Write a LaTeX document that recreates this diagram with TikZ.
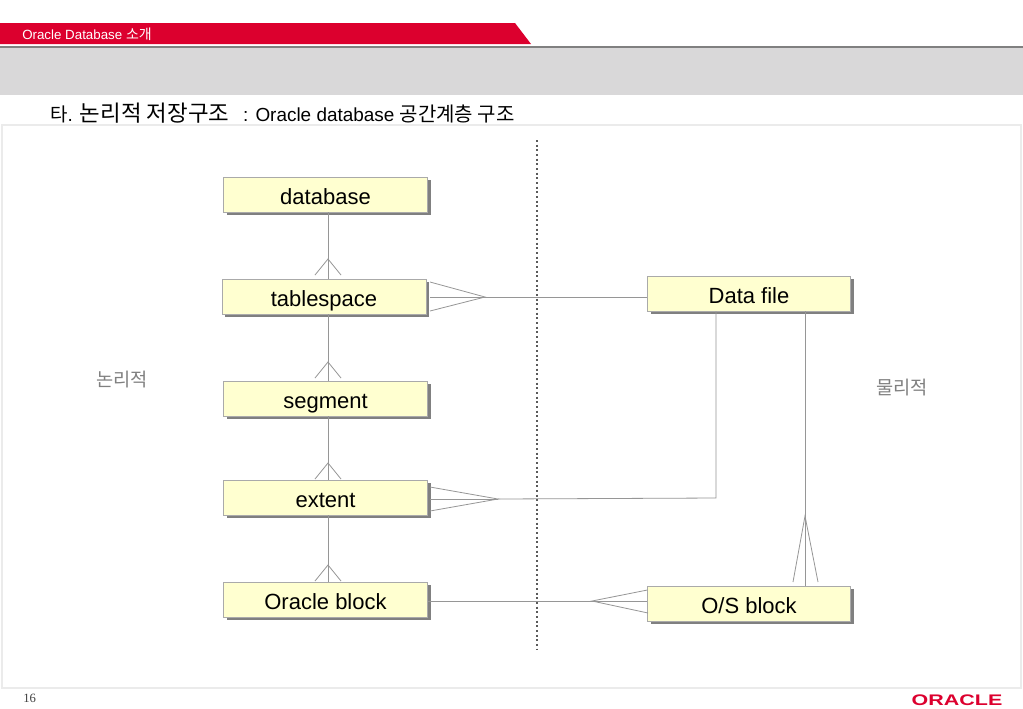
\documentclass[tikz,border=0pt]{standalone}
\usepackage{fontspec}
\setmainfont{Liberation Sans}
\newfontfamily\krfont{Noto Sans CJK KR}
\newfontfamily\pagefont{Liberation Serif}
\usetikzlibrary{shadows}
\definecolor{oraclered}{RGB}{220,0,46}
\definecolor{bandgray}{RGB}{217,216,217}
\definecolor{boxfill}{RGB}{255,255,208}
\definecolor{linegray}{RGB}{150,150,150}
\tikzset{
  entity/.style={draw={rgb,255:red,170;green,170;blue,170},fill=boxfill,minimum height=26.5pt,inner sep=0pt,
    font=\fontsize{16.5}{18}\selectfont,text=black,text height=15pt,text depth=0pt,
    copy shadow={draw=none,fill=gray,shadow xshift=2.4pt,shadow yshift=-2.4pt}},
  link/.style={draw=linegray,line width=0.6pt},
  sidelabel/.style={font=\krfont\fontsize{14}{16}\selectfont,text=gray}
}
\begin{document}
\begin{tikzpicture}[x=0.75pt,y=0.75pt,yscale=-1,xscale=1]
\useasboundingbox (0,0) rectangle (1023,708);

%Header
\fill [oraclered] (0,23) -- (515,23) -- (531,44) -- (0,44) -- cycle;
\fill [gray] (0,45.5) rectangle (1023,47.5);
\fill [bandgray] (0,47.5) rectangle (1023,95);
\node (header) [anchor=west,inner sep=0pt,text=white,font=\fontsize{10}{11}\selectfont] at (22,34) {Oracle Database {\krfont\fontsize{10.5}{11}\selectfont 소개}};
\node (title) [anchor=west,inner sep=0pt,font=\fontsize{14.2}{17}\selectfont] at (50,113) {{\krfont 타}. {\krfont\fontsize{16.8}{17}\selectfont 논리적 저장구조}\hspace{10.5pt}: Oracle database {\krfont\fontsize{15}{17}\selectfont 공간계층 구조}};

%Panel
\draw [color={rgb,255:red,235;green,235;blue,235},line width=2pt,fill=white] (2,125) rectangle (1021,688);

%Divider
\coordinate (divtop) at (537,140);
\coordinate (divbot) at (537,650);
\draw [color={rgb,255:red,90;green,90;blue,90},line width=1.5pt,dotted] (divtop) -- (divbot);

%Entities
\node (database) [entity,minimum width=153pt] at (325.5,194.5) {database};
\node (tablespace) [entity,minimum width=153pt] at (324,296.5) {tablespace};
\node (segment) [entity,minimum width=153pt] at (325.5,398.5) {segment};
\node (extent) [entity,minimum width=153pt] at (325.5,497.5) {extent};
\node (oblock) [entity,minimum width=153pt] at (325.5,599.5) {Oracle block};
\node (datafile) [entity,minimum width=152pt] at (749,293.5) {Data file};
\node (osblock) [entity,minimum width=152pt] at (749,603.5) {O/S block};

%Crow's foot apexes
\coordinate (tstop) at (328,259);
\coordinate (segtop) at (328,362);
\coordinate (exttop) at (328,463);
\coordinate (obtop) at (328,565);
\coordinate (tsright) at (485,297);
\coordinate (extright) at (498,499);
\coordinate (osleft) at (592,601);
\coordinate (ostop) at (805,516);
\coordinate (extcorner) at (716,498);

%Connectors
\draw [link] (tstop |- database.south) -- (tstop |- tablespace.north);
\draw [link] (segtop |- tablespace.south) -- (segtop |- segment.north);
\draw [link] (exttop |- segment.south) -- (exttop |- extent.north);
\draw [link] (obtop |- extent.south) -- (obtop |- oblock.north);
\draw [link] (tsright) -- (tsright -| datafile.west);
\draw [link] (extright) -- (extcorner) -- (extcorner |- datafile.south);
\draw [link] (oblock.east |- osleft) -- (osleft -| osblock.west);
\draw [link] (ostop |- datafile.south) -- (ostop |- osblock.north);

%Crow's feet
\foreach \apex in {tstop,segtop,exttop,obtop} {
  \draw [link] ([shift={(-13,16)}]\apex) -- (\apex) -- ([shift={(13,16)}]\apex);
}
\draw [link] (430,282) -- (tsright) -- (430,311);
\draw [link] (430,297) -- (tsright);
\draw [link] (430,487) -- (extright) -- (430,511);
\draw [link] (430,499) -- (extright);
\draw [link] (osleft -| osblock.west) ++(0,-11) -- (osleft) -- ++(56,12);
\draw [link] (793,582) -- (ostop) -- (818,582);

%Side labels
\node (logical) [sidelabel] at (122,380) {논리적};
\node (physical) [sidelabel] at (902,388) {물리적};

%Footer
\node (pagenum) [anchor=west,inner sep=0pt,text=darkgray,font=\pagefont\fontsize{9.5}{11}\selectfont] at (23,698) {16};
\node (logo) [inner sep=0pt,text=oraclered,xscale=1.4,font=\bfseries\fontsize{11.5}{13}\selectfont] at (957,700) {ORACLE};

\end{tikzpicture}
\end{document}
